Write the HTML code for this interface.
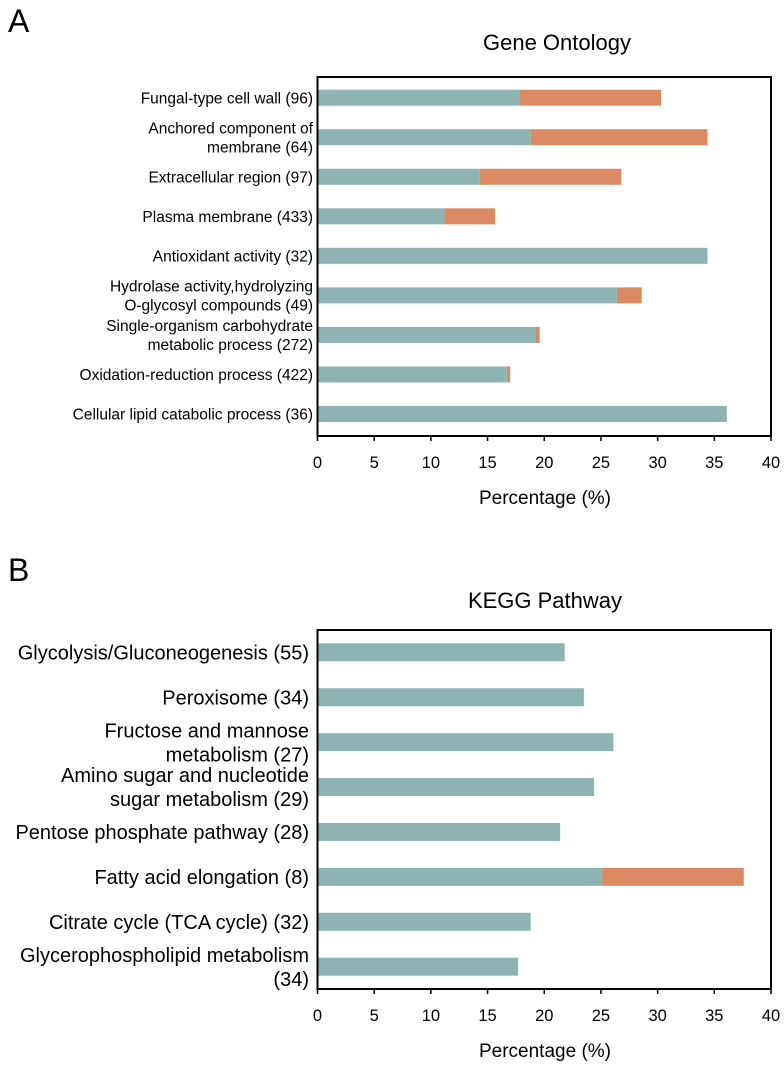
<!DOCTYPE html>
<html><head><meta charset="utf-8"><style>
html,body{margin:0;padding:0;background:#fff;}
svg{display:block;font-family:"Liberation Sans",Arial,sans-serif;}
</style></head><body>
<svg id="fig" width="784" height="1069" viewBox="0 0 784 1069" xmlns="http://www.w3.org/2000/svg">
<text x="8" y="32" font-size="32">A</text>
<text x="557" y="50" font-size="22" text-anchor="middle">Gene Ontology</text>
<text x="8" y="581" font-size="32">B</text>
<text x="545" y="608" font-size="22" text-anchor="middle">KEGG Pathway</text>
<g id="chartA"></g>
<g id="chartB"></g>
</svg>
<script>
const goLabels = [["Fungal-type cell wall (96)"],["Anchored component of","membrane (64)"],["Extracellular region (97)"],["Plasma membrane (433)"],["Antioxidant activity (32)"],["Hydrolase activity,hydrolyzing","O-glycosyl compounds (49)"],["Single-organism carbohydrate","metabolic process (272)"],["Oxidation-reduction process (422)"],["Cellular lipid catabolic process (36)"]];
const goTeal = [17.8, 18.8, 14.3, 11.2, 34.4, 26.4, 19.2, 16.7, 36.1];
const goTotal = [30.3, 34.4, 26.8, 15.65, 34.4, 28.6, 19.6, 17.0, 36.1];
const keggLabels = [["Glycolysis/Gluconeogenesis (55)"],["Peroxisome (34)"],["Fructose and mannose","metabolism (27)"],["Amino sugar and nucleotide","sugar metabolism (29)"],["Pentose phosphate pathway (28)"],["Fatty acid elongation (8)"],["Citrate cycle (TCA cycle) (32)"],["Glycerophospholipid metabolism","(34)"]];
const keggTeal = [21.8, 23.5, 26.1, 24.4, 21.4, 25.1, 18.8, 17.7];
const keggTotal = [21.8, 23.5, 26.1, 24.4, 21.4, 37.6, 18.8, 17.7];
const xTicks = [0,5,10,15,20,25,30,35,40];

const NS="http://www.w3.org/2000/svg";
function mk(parent, tag, attrs, txt){
  const e=document.createElementNS(NS,tag);
  for(const k in attrs) e.setAttribute(k,attrs[k]);
  if(txt!==undefined) e.textContent=txt;
  parent.appendChild(e); return e;
}
function draw(g, cfg, labels, teal, total, prefix){
  const L=317.5, R=771, T=cfg.top, B=cfg.bottom;
  const xs=v=>L+(R-L)*v/40;
  const n=labels.length;
  const ys=i=>cfg.first+(cfg.last-cfg.first)*i/(n-1);
  for(let i=0;i<n;i++){
    const y=ys(i);
    const r1=mk(g,'rect',{x:xs(0),y:y-cfg.bh/2,width:xs(teal[i])-xs(0),height:cfg.bh,fill:'#8db4b3'});
    
    
    if(total[i]>teal[i]){
      const r2=mk(g,'rect',{x:xs(teal[i]),y:y-cfg.bh/2,width:xs(total[i])-xs(teal[i]),height:cfg.bh,fill:'#dc8a63'});
      
      
    }
    const lines=labels[i];
    const sp=cfg.lh;
    const t=mk(g,'text',{x:cfg.lx,'text-anchor':'end','font-size':cfg.fs});
    
    
    lines.forEach((s,j)=>{
      const yy=y-(lines.length-1)*sp/2+j*sp+cfg.fs*0.36;
      mk(t,'tspan',{x:cfg.lx,y:yy},s);
    });
  }
  const f=mk(g,'rect',{x:L,y:T,width:R-L,height:B-T,fill:'none',stroke:'#000','stroke-width':2});
  
  
  xTicks.forEach(v=>{
    const tk=mk(g,'line',{x1:xs(v),x2:xs(v),y1:B,y2:B+5,stroke:'#000','stroke-width':1.5});
    
    
    const tl=mk(g,'text',{x:xs(v),y:B+32,'text-anchor':'middle','font-size':16.5},String(v));
    
    
  });
  const at=mk(g,'text',{x:545,y:B+68,'text-anchor':'middle','font-size':19},'Percentage (%)');
  
  
}
draw(document.getElementById('chartA'),{top:77,bottom:436,first:97.7,last:414,bh:16,lx:313,fs:15.5,lh:19},goLabels,goTeal,goTotal,'go');
draw(document.getElementById('chartB'),{top:630,bottom:989,first:652.3,last:966.7,bh:18,lx:309,fs:20,lh:24},keggLabels,keggTeal,keggTotal,'kegg');
</script>
</body></html>
